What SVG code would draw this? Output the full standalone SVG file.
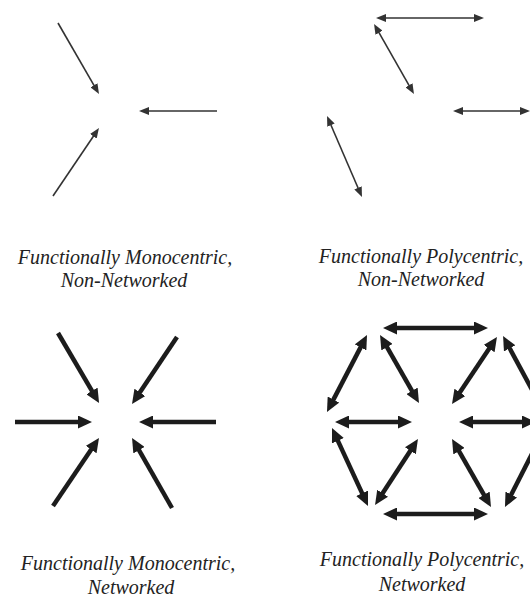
<svg xmlns="http://www.w3.org/2000/svg" width="530" height="601" viewBox="0 0 530 601">
<style>
.thin{stroke:#333;stroke-width:1.6;fill:none}
.thick{stroke:#1c1c1c;stroke-width:4.5;fill:none}
.lbl{font-family:"Liberation Serif","Times New Roman",serif;font-style:italic;font-size:20px;fill:#222;text-anchor:middle}
</style>
<defs>
<marker id="ht" markerUnits="userSpaceOnUse" markerWidth="10" markerHeight="8" refX="4" refY="4" orient="auto-start-reverse" viewBox="0 0 10 8"><path d="M0,0 L10,4 L0,8 z" fill="#333"/></marker>
<marker id="hk" markerUnits="userSpaceOnUse" markerWidth="14" markerHeight="13" refX="4" refY="6.5" orient="auto-start-reverse" viewBox="0 0 14 13"><path d="M0,0 L14,6.5 L0,13 z" fill="#1c1c1c"/></marker>
</defs>
<rect width="530" height="601" fill="#fff"/>
<g id="connectors">
<g id="mono-nonnet">
<line class="thin" x1="58" y1="23" x2="96" y2="88.8" marker-end="url(#ht)"/>
<line class="thin" x1="217" y1="111" x2="145" y2="111" marker-end="url(#ht)"/>
<line class="thin" x1="53" y1="196" x2="95.6" y2="133" marker-end="url(#ht)"/>
</g>
<g id="poly-nonnet">
<line class="thin" x1="382" y1="18" x2="478" y2="18" marker-start="url(#ht)" marker-end="url(#ht)"/>
<line class="thin" x1="377" y1="29.2" x2="411" y2="88.8" marker-start="url(#ht)" marker-end="url(#ht)"/>
<line class="thin" x1="459" y1="111" x2="524" y2="111" marker-start="url(#ht)" marker-end="url(#ht)"/>
<line class="thin" x1="329.4" y1="121.5" x2="359.6" y2="191.5" marker-start="url(#ht)" marker-end="url(#ht)"/>
</g>
<g id="mono-net">
<line class="thick" x1="58" y1="333" x2="94" y2="394.4" marker-end="url(#hk)"/>
<line class="thick" x1="177" y1="337" x2="137.6" y2="395.7" marker-end="url(#hk)"/>
<line class="thick" x1="15" y1="422" x2="82" y2="422" marker-end="url(#hk)"/>
<line class="thick" x1="216" y1="422" x2="149" y2="422" marker-end="url(#hk)"/>
<line class="thick" x1="53" y1="506" x2="93.4" y2="446.3" marker-end="url(#hk)"/>
<line class="thick" x1="172" y1="508" x2="137" y2="446.7" marker-end="url(#hk)"/>
</g>
<g id="poly-net">
<line class="thick" x1="393" y1="328" x2="478" y2="328" marker-start="url(#hk)" marker-end="url(#hk)"/>
<line class="thick" x1="362.4" y1="343.9" x2="331.6" y2="403.1" marker-start="url(#hk)" marker-end="url(#hk)"/>
<line class="thick" x1="385" y1="343.7" x2="414" y2="394.3" marker-start="url(#hk)" marker-end="url(#hk)"/>
<line class="thick" x1="491.4" y1="345.3" x2="457.6" y2="395.7" marker-start="url(#hk)" marker-end="url(#hk)"/>
<line class="thick" x1="507.8" y1="344.8" x2="538.2" y2="401.2" marker-start="url(#hk)" marker-end="url(#hk)"/>
<line class="thick" x1="345" y1="422" x2="402" y2="422" marker-start="url(#hk)" marker-end="url(#hk)"/>
<line class="thick" x1="469" y1="422" x2="526" y2="422" marker-start="url(#hk)" marker-end="url(#hk)"/>
<line class="thick" x1="336.2" y1="437.1" x2="363.8" y2="496.9" marker-start="url(#hk)" marker-end="url(#hk)"/>
<line class="thick" x1="412.5" y1="447.4" x2="380.5" y2="496.6" marker-start="url(#hk)" marker-end="url(#hk)"/>
<line class="thick" x1="457" y1="447.7" x2="486" y2="498.3" marker-start="url(#hk)" marker-end="url(#hk)"/>
<line class="thick" x1="509.5" y1="498.1" x2="538.5" y2="440.9" marker-start="url(#hk)" marker-end="url(#hk)"/>
<line class="thick" x1="393" y1="514" x2="478" y2="514" marker-start="url(#hk)" marker-end="url(#hk)"/>
</g>
</g>
<g id="label-mono-nonnet">
<text class="lbl" x="125" y="264">Functionally Monocentric,</text>
<text class="lbl" x="124" y="287">Non-Networked</text>
</g>
<g id="label-poly-nonnet">
<text class="lbl" x="421" y="263">Functionally Polycentric,</text>
<text class="lbl" x="421" y="286">Non-Networked</text>
</g>
<g id="label-mono-net">
<text class="lbl" x="128" y="570">Functionally Monocentric,</text>
<text class="lbl" x="131" y="594">Networked</text>
</g>
<g id="label-poly-net">
<text class="lbl" x="422" y="566">Functionally Polycentric,</text>
<text class="lbl" x="422" y="591">Networked</text>
</g>
</svg>
